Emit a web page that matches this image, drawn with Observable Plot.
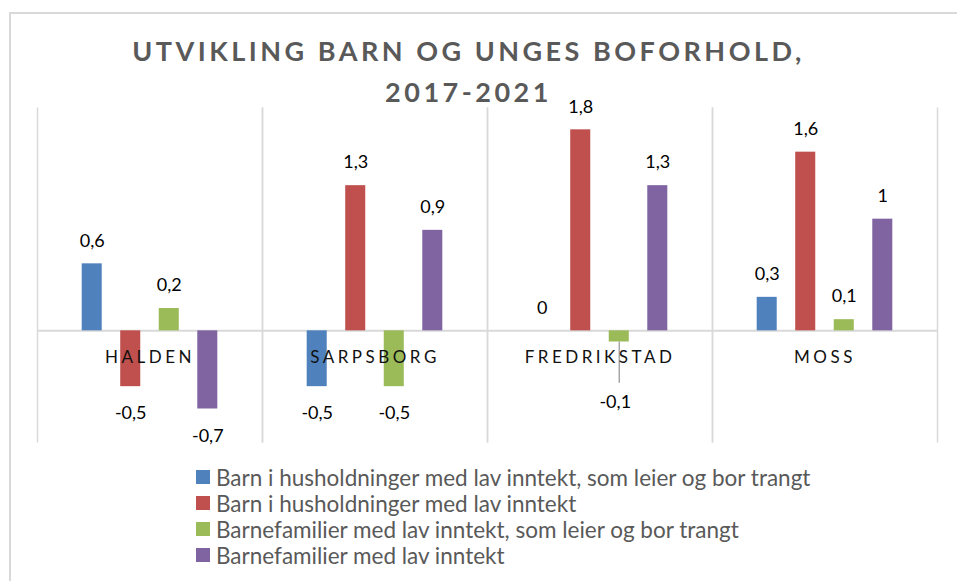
<!DOCTYPE html>
<html><head><meta charset="utf-8">
<script src="https://cdn.jsdelivr.net/npm/d3@7"></script>
<script src="https://cdn.jsdelivr.net/npm/@observablehq/plot@0.6"></script>
<style>
html,body{margin:0;padding:0;background:#fff;overflow:hidden;}
#wrap{position:relative;width:957px;height:581px;overflow:hidden;}
#border{position:absolute;left:9px;top:12px;width:2000px;height:2000px;border-top:2px solid #d9d9d9;border-left:2px solid #d9d9d9;}
#chart{position:absolute;left:0;top:0;}
#title{position:absolute;left:0;top:30px;width:937px;text-align:center;font-family:Lato;font-weight:bold;font-size:27px;letter-spacing:3.5px;color:#595959;line-height:41px;}
#legend{position:absolute;left:196px;top:464px;font-family:Lato;font-size:22.5px;color:#595959;}
.item{display:flex;align-items:center;height:26px;white-space:nowrap;}
.sw{width:14px;height:14px;margin-right:6px;flex:none;}
</style></head>
<body>
<div id="wrap">
  <div id="border"></div>
  <div id="chart"></div>
  <div id="title">UTVIKLING BARN OG UNGES BOFORHOLD,<br>2017-2021</div>
  <div id="legend"></div>
</div>
<script>
const cities = ["HALDEN", "SARPSBORG", "FREDRIKSTAD", "MOSS"];
const series = [
  "Barn i husholdninger med lav inntekt, som leier og bor trangt",
  "Barn i husholdninger med lav inntekt",
  "Barnefamilier med lav inntekt, som leier og bor trangt",
  "Barnefamilier med lav inntekt"
];
const colors = ["#4f81bd", "#c0504d", "#9bbb59", "#8064a2"];
const halden = [0.6, -0.5, 0.2, -0.7];
const sarpsborg = [-0.5, 1.3, -0.5, 0.9];
const fredrikstad = [0, 1.8, -0.1, 1.3];
const moss = [0.3, 1.6, 0.1, 1];
const values = [halden, sarpsborg, fredrikstad, moss];

const rows = cities.flatMap((c, i) => series.map((s, j) => ({city: c, series: s, value: values[i][j]})));
const fmt = v => String(v).replace(".", ",");
const isLeader = d => d.value < 0 && d.value > -0.2;
const font = {fontFamily: "Lato", fontSize: 18, fill: "#000"};

const plot = Plot.plot({
  width: 957, height: 581,
  marginTop: 107, marginBottom: 139, marginLeft: 37, marginRight: 20,
  fx: {domain: cities, padding: 0, axis: null},
  x: {domain: series, paddingInner: 0.48, paddingOuter: 1.16, round: false, axis: null},
  y: {domain: [-1, 2], axis: null},
  color: {domain: series, range: colors},
  marks: [
    Plot.frame({stroke: "#d9d9d9", strokeWidth: 1.5, strokeDasharray: "0 225 335 225 335"}),
    Plot.ruleY([0], {stroke: "#d9d9d9", strokeWidth: 2}),
    Plot.barY(rows, {fx: "city", x: "series", y1: 0, y2: "value", fill: "series"}),
    Plot.ruleX(rows.filter(isLeader), {fx: "city", x: "series", y1: "value", y2: d => d.value - 0.37, stroke: "#a6a6a6", strokeWidth: 1.5}),
    Plot.text(cities, {fx: d => d, y: () => 0, text: d => d, dy: 27, fontFamily: "Lato", fontSize: 17, fill: "#111"}),
    Plot.text(rows.filter(d => d.value >= 0), {fx: "city", x: "series", y: "value", text: d => fmt(d.value), dy: -23, ...font}),
    Plot.text(rows.filter(d => d.value < 0 && !isLeader(d)), {fx: "city", x: "series", y: "value", text: d => fmt(d.value), dy: 27, ...font}),
    Plot.text(rows.filter(isLeader), {fx: "city", x: "series", y: d => d.value - 0.37, text: d => fmt(d.value), dy: 19, dx: -4, ...font})
  ]
});
d3.select(plot).selectAll("text").filter(function() { return cities.includes(this.textContent); }).style("letter-spacing", "3.5px");
document.getElementById("chart").appendChild(plot);

const legend = d3.select("#legend");
series.forEach((s, i) => {
  const it = legend.append("div").attr("class", "item");
  it.append("div").attr("class", "sw").style("background", colors[i]);
  it.append("span").text(s);
});
</script>
</body></html>
